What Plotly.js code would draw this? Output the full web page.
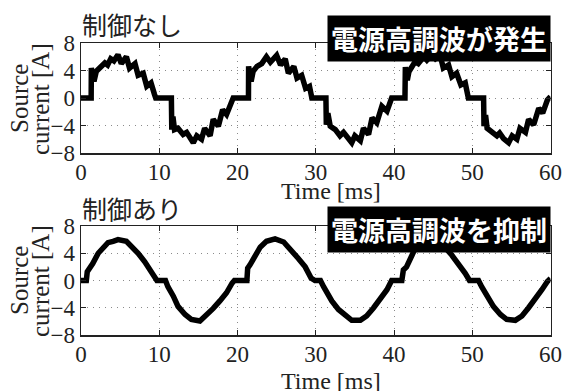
<!DOCTYPE html>
<html>
<head>
<meta charset="utf-8">
<script src="https://cdn.plot.ly/plotly-3.0.1.min.js"></script>
<style>html,body{margin:0;padding:0;background:#fff;}#chart{width:569px;height:391px;}</style>
</head>
<body>
<div id="chart"></div>
<script>
// Uncontrolled (制御なし) source current
const timeNoCtrl = [0,1.3,1.32,1.66,1.96,2.4,3.05,3.4,3.8,4.2,4.73,5.15,5.8,6.2,6.9,7.3,7.95,8.4,8.95,9.4,9.55,11.55,11.6,11.75,11.95,12.4,13.05,13.5,14.35,14.8,15.4,15.8,16.5,16.9,17.55,18.1,18.6,19.45,
  21.4,21.42,21.74,22.0,22.5,23.1,23.7,24.2,25.0,25.5,26.1,26.5,27.2,27.6,28.2,28.7,29.2,29.5,31.3,31.35,31.55,31.85,32.5,33.1,33.55,34.6,35.0,35.7,36.1,36.75,37.2,37.8,38.45,39.1,39.7,
  41.4,41.45,41.7,41.9,42.3,42.7,43.1,43.8,44.2,44.85,45.3,45.9,46.3,46.97,47.4,48.0,48.55,49.1,49.5,51.45,51.5,51.7,51.9,52.5,53.15,53.5,54.0,54.65,55.1,55.7,56.1,56.8,57.2,57.85,58.5,59.0,59.6,60];
const currentNoCtrl = [0,0,4.35,2.4,3.9,4.35,5.1,4.8,5.7,5.4,6.3,5.0,6.0,4.35,5.0,3.3,3.6,1.7,2.2,0.5,0,0,-4.6,-2.7,-4.6,-4.4,-5.3,-5.0,-6.5,-5.5,-6.0,-4.4,-5.5,-3.1,-4.1,-1.7,-2.4,0,
  0,4.6,2.4,3.9,4.6,5.0,6.0,5.2,6.2,4.8,5.7,3.6,4.6,2.9,3.3,1.4,1.7,0,0,-3.9,-2.2,-4.1,-4.6,-5.5,-5.0,-6.5,-5.5,-6.2,-4.4,-5.3,-2.9,-3.6,-1.2,-1.9,0,
  0,4.5,2.6,3.8,4.4,5.3,5.0,6.0,5.5,6.3,5.7,6.2,4.35,4.8,3.1,3.6,1.9,2.2,0,0,-4.1,-2.5,-4.4,-5.0,-5.5,-5.1,-5.9,-6.5,-5.5,-6.0,-4.4,-5.0,-3.1,-3.9,-1.5,-2.2,-0.3,0.2];

// Controlled (制御あり) source current
const timeCtrl = [0,0.68,0.8,1.1,1.5,2.2,2.85,3.45,4.1,4.73,5.8,6.4,7.3,8.15,8.9,9.5,9.7,10.8,11.1,11.8,12.4,13.3,14.1,15.2,16.0,16.9,17.75,18.6,19.3,19.6,
  21.2,21.3,21.6,22.25,22.9,23.7,24.8,25.9,26.7,27.8,28.65,29.4,29.9,30.6,31.0,31.4,32.05,32.9,33.8,34.6,35.7,36.5,37.4,38.2,39.1,39.7,
  41.0,41.2,41.6,42.3,42.9,43.7,44.7,45.7,46.5,47.4,48.25,49.1,49.65,50.8,51.2,51.9,52.7,53.6,54.4,55.5,56.35,57.2,58.05,58.9,59.6,60];
const currentCtrl = [0,0,1.3,1.8,2.5,4.0,4.9,5.55,5.75,6.0,5.75,5.1,4.0,2.75,1.55,0.25,0,0,-0.9,-2.3,-3.8,-5.0,-5.7,-5.95,-5.2,-4.1,-3.0,-1.8,-0.4,0,
  0,1.8,2.3,3.7,4.9,5.75,6.1,5.65,4.7,3.2,2.0,0.35,0,0,-0.9,-1.8,-3.0,-4.25,-5.2,-5.85,-5.85,-5.2,-4.0,-2.8,-1.35,0,
  0,1.55,2.0,3.7,5.2,5.8,6.05,5.7,4.9,3.7,2.5,1.05,0,0,-0.9,-2.3,-3.8,-5.0,-5.7,-5.85,-5.2,-4.0,-2.8,-1.35,-0.15,0.3];

const xTickVals = [0,10,20,30,40,50,60];
const yTickVals = [-8,-4,0,4,8];
const panelTitles = ['制御なし','制御あり'];
const boxLabels = ['電源高調波が発生','電源高調波を抑制'];
const xTitle = 'Time [ms]';
const yTitleLines = ['Source','current [A]'];

const W = 569, H = 391;
const px = v => v / W;
const py = v => 1 - v / H;

const serif = 'Liberation Serif';
const cjk = 'Noto Sans CJK JP';

const lineStyle = {color: '#000', width: 5.5};
const traces = [
  {x: timeNoCtrl, y: currentNoCtrl, xaxis: 'x', yaxis: 'y', type: 'scatter', mode: 'lines', line: lineStyle, hoverinfo: 'skip'},
  {x: timeCtrl, y: currentCtrl, xaxis: 'x2', yaxis: 'y2', type: 'scatter', mode: 'lines', line: lineStyle, hoverinfo: 'skip'}
];

const xDomain = [px(81), px(550.5)];
function xAxis(anchor) {
  return {domain: xDomain, anchor: anchor, range: [0, 60], tickvals: xTickVals, ticks: 'inside', ticklen: 5, tickcolor: '#222',
    showline: true, linecolor: '#222', linewidth: 1.5, mirror: 'ticks', showgrid: true, gridcolor: '#8a8a8a', griddash: '1px,5px', gridwidth: 1,
    zeroline: false, tickfont: {family: serif, size: 23, color: '#222'}, ticklabelstandoff: -2, fixedrange: true};
}
function yAxis(anchor, dom) {
  return {domain: dom, anchor: anchor, range: [-8, 8], tickvals: yTickVals, ticks: 'inside', ticklen: 5, tickcolor: '#222',
    showline: true, linecolor: '#222', linewidth: 1.5, mirror: 'ticks', showgrid: true, gridcolor: '#8a8a8a', griddash: '1px,5px', gridwidth: 1,
    zeroline: false, tickfont: {family: serif, size: 23, color: '#222'}, ticklabelstandoff: 0, fixedrange: true};
}

const annotations = [];
const panels = [
  {titleY: 24, boxY: 38.5, xTitleY: 191, yMid: 99},
  {titleY: 208, boxY: 229, xTitleY: 381, yMid: 281}
];
panels.forEach((p, i) => {
  annotations.push({xref: 'paper', yref: 'paper', x: px(80), y: py(p.titleY), xanchor: 'left', yanchor: 'middle', showarrow: false,
    text: panelTitles[i], font: {family: cjk, size: 25, color: '#222'}});
  annotations.push({xref: 'paper', yref: 'paper', x: px(551), y: py(p.boxY), xanchor: 'right', yanchor: 'middle', showarrow: false,
    text: '<b>' + boxLabels[i] + '</b>', font: {family: cjk, size: 27, color: '#fff'}, bgcolor: '#000', borderpad: 3});
  annotations.push({xref: 'paper', yref: 'paper', x: px(331), y: py(p.xTitleY), xanchor: 'center', yanchor: 'middle', showarrow: false,
    text: xTitle, font: {family: serif, size: 24, color: '#222'}});
  annotations.push({xref: 'paper', yref: 'paper', x: px(19), y: py(p.yMid), xanchor: 'center', yanchor: 'middle', showarrow: false,
    textangle: -90, text: yTitleLines[0], font: {family: serif, size: 25, color: '#222'}});
  annotations.push({xref: 'paper', yref: 'paper', x: px(40), y: py(p.yMid), xanchor: 'center', yanchor: 'middle', showarrow: false,
    textangle: -90, text: yTitleLines[1], font: {family: serif, size: 25, color: '#222'}});
});

const layout = {
  width: W, height: H, margin: {l: 0, r: 0, t: 0, b: 0}, paper_bgcolor: '#fff', plot_bgcolor: '#fff', showlegend: false,
  xaxis: xAxis('y'), yaxis: yAxis('x', [py(153), py(43)]),
  xaxis2: xAxis('y2'), yaxis2: yAxis('x2', [py(335), py(226)]),
  annotations: annotations
};

Plotly.newPlot('chart', traces, layout, {staticPlot: true, displayModeBar: false});
</script>
</body>
</html>
